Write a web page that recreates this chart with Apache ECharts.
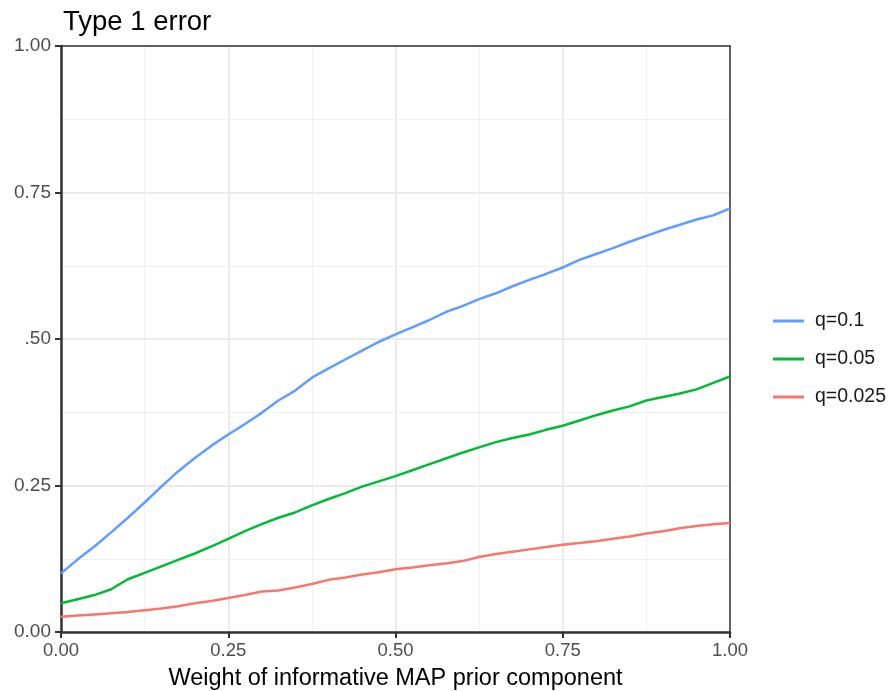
<!DOCTYPE html>
<html>
<head>
<meta charset="utf-8">
<script src="https://cdn.jsdelivr.net/npm/echarts@6/dist/echarts.min.js"></script>
<style>html,body{margin:0;padding:0;background:#fff}#c{width:890px;height:691px}</style>
</head>
<body>
<div id="c"></div>
<script>
const xValues = [0,0.025,0.05,0.075,0.1,0.125,0.15,0.175,0.2,0.225,0.25,0.275,0.3,0.325,0.35,0.375,0.4,0.425,0.45,0.475,0.5,0.525,0.55,0.575,0.6,0.625,0.65,0.675,0.7,0.725,0.75,0.775,0.8,0.825,0.85,0.875,0.9,0.925,0.95,0.975,1.0];
const q010 = [0.100,0.124,0.146,0.170,0.195,0.221,0.248,0.274,0.297,0.318,0.337,0.355,0.374,0.395,0.412,0.434,0.450,0.465,0.480,0.495,0.508,0.520,0.532,0.546,0.556,0.568,0.578,0.590,0.601,0.611,0.622,0.635,0.645,0.655,0.666,0.676,0.686,0.695,0.704,0.711,0.723];
const q005 = [0.049,0.056,0.063,0.073,0.090,0.101,0.112,0.123,0.134,0.146,0.159,0.172,0.184,0.195,0.204,0.216,0.227,0.237,0.248,0.257,0.266,0.276,0.286,0.296,0.306,0.315,0.324,0.331,0.337,0.345,0.352,0.361,0.370,0.378,0.385,0.395,0.401,0.407,0.414,0.425,0.436];
const q0025 = [0.026,0.028,0.030,0.032,0.034,0.037,0.040,0.044,0.049,0.053,0.058,0.063,0.069,0.071,0.076,0.082,0.089,0.093,0.098,0.102,0.107,0.110,0.114,0.117,0.121,0.128,0.133,0.137,0.141,0.145,0.149,0.152,0.155,0.159,0.163,0.168,0.172,0.177,0.181,0.184,0.186];
const seriesNames = ['q=0.1','q=0.05','q=0.025'];
const seriesColors = ['#619CFF','#00BA38','#F8766D'];
const xTickLabels = ['0.00','0.25','0.50','0.75','1.00'];
const yTickLabels = ['0.00','0.25','.50','0.75','1.00'];
const titleText = 'Type 1 error';
const xAxisTitle = 'Weight of informative MAP prior component';

const toPairs = arr => arr.map((v,i)=>[xValues[i], v]);
const allData = [q010, q005, q0025];
const FONT = '"Liberation Sans", Arial, sans-serif';

const gridLines = {
  splitLine:{show:true, lineStyle:{color:'#ebebeb', width:2}},
  minorTick:{show:false, splitNumber:2},
  minorSplitLine:{show:true, lineStyle:{color:'#f0f0f0', width:1}}
};
const frameAxis = {
  type:'value', min:0, max:1, interval:0.25,
  axisLine:{show:true, onZero:false, lineStyle:{color:'#333', width:1.5}},
  axisTick:{show:false}, axisLabel:{show:false}, splitLine:{show:false}
};

const chart = echarts.init(document.getElementById('c'), null, {renderer:'canvas'});
chart.setOption({
  backgroundColor:'#fff',
  animation:false,
  title:{text:titleText, left:58, top:3, textStyle:{fontFamily:FONT, fontSize:27.5, fontWeight:'normal', color:'#000'}},
  grid:{left:61, right:160, top:46, bottom:59, outerBoundsMode:'none', containLabel:false},
  legend:{
    orient:'vertical', left:768, top:305,
    icon:'rect', itemWidth:31, itemHeight:3, itemGap:16,
    textStyle:{fontFamily:FONT, fontSize:19.5, color:'#1a1a1a', lineHeight:22, padding:[0,0,0,6]},
    data:seriesNames
  },
  xAxis:[Object.assign({
    type:'value', min:0, max:1, interval:0.25,
    name:xAxisTitle, nameLocation:'middle', nameGap:35,
    nameTextStyle:{fontFamily:FONT, fontSize:23.5, color:'#000'},
    axisLine:{show:true, onZero:false, lineStyle:{color:'#333', width:2.5}},
    axisTick:{show:true, length:6, lineStyle:{color:'#333', width:2}},
    axisLabel:{fontFamily:FONT, fontSize:18.5, color:'#4d4d4d', margin:9,
      formatter:(v)=>xTickLabels[Math.round(v/0.25)]}
  }, gridLines), Object.assign({position:'top'}, frameAxis)],
  yAxis:[Object.assign({
    type:'value', min:0, max:1, interval:0.25,
    axisLine:{show:true, onZero:false, lineStyle:{color:'#333', width:2.5}},
    axisTick:{show:true, length:6, lineStyle:{color:'#333', width:2}},
    axisLabel:{fontFamily:FONT, fontSize:19, color:'#4d4d4d', margin:10,
      formatter:(v)=>yTickLabels[Math.round(v/0.25)]}
  }, gridLines), Object.assign({position:'right'}, frameAxis)],
  series: seriesNames.map((n,i)=>({
    name:n, type:'line', data:toPairs(allData[i]), showSymbol:false, symbol:'none',
    lineStyle:{color:seriesColors[i], width:2.5}, itemStyle:{color:seriesColors[i]}
  }))
});
</script>
</body>
</html>
